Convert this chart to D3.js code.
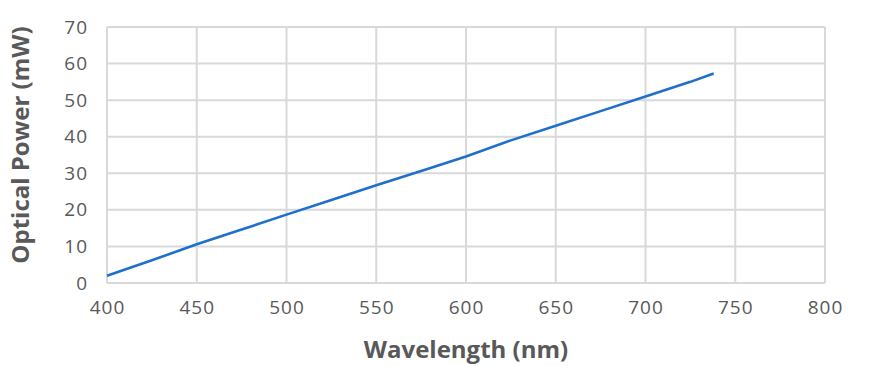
<!DOCTYPE html>
<html>
<head>
<meta charset="utf-8">
<script src="https://cdn.jsdelivr.net/npm/d3@7"></script>
<style>
  body { margin: 0; background: #fff; }
  svg text { font-family: "Open Sans", sans-serif; fill: #595959; }
</style>
</head>
<body>
<div id="chart"></div>
<script>
// data
const wavelength = [400, 425, 450, 475, 500, 525, 550, 575, 600, 625, 650, 675, 700, 725, 738];
const power = [2.0, 6.2, 10.6, 14.6, 18.7, 22.7, 26.7, 30.6, 34.6, 39.0, 43.0, 47.0, 51.0, 55.0, 57.3];
const xTicks = [400, 450, 500, 550, 600, 650, 700, 750, 800];
const yTicks = [0, 10, 20, 30, 40, 50, 60, 70];

const W = 882, H = 366;
const margin = {top: 27, right: 57, bottom: 83, left: 107};
const width = W - margin.left - margin.right;
const height = H - margin.top - margin.bottom;

const svg = d3.select("#chart").append("svg")
    .attr("width", W)
    .attr("height", H);
const g = svg.append("g")
    .attr("transform", "translate(" + margin.left + "," + margin.top + ")");

const x = d3.scaleLinear().domain([400, 800]).range([0, width]);
const y = d3.scaleLinear().domain([0, 70]).range([height, 0]);

// grid
g.selectAll("line.vgrid").data(xTicks).enter().append("line")
    .attr("class", "vgrid")
    .attr("x1", d => x(d)).attr("x2", d => x(d))
    .attr("y1", 0).attr("y2", height)
    .attr("stroke", "#d9d9d9").attr("stroke-width", 2);
g.selectAll("line.hgrid").data(yTicks).enter().append("line")
    .attr("class", "hgrid")
    .attr("x1", 0).attr("x2", width)
    .attr("y1", d => y(d)).attr("y2", d => y(d))
    .attr("stroke", "#d9d9d9").attr("stroke-width", 2);

// axes (labels only, grid drawn above)
const xAxis = g.append("g")
    .attr("transform", "translate(0," + height + ")")
    .call(d3.axisBottom(x).tickValues(xTicks).tickSize(0).tickPadding(18));
const yAxis = g.append("g")
    .call(d3.axisLeft(y).tickValues(yTicks).tickSize(0).tickPadding(19));
[xAxis, yAxis].forEach(a => {
    a.select(".domain").remove();
    a.selectAll("text")
        .style("font-family", "'Open Sans', sans-serif")
        .style("font-size", "19px")
        .style("letter-spacing", "1px")
        .attr("fill", "#595959");
});

// the line
g.append("path")
    .datum(wavelength.map((d, i) => [d, power[i]]))
    .attr("fill", "none")
    .attr("stroke", "#1f6fcc")
    .attr("stroke-width", 2.6)
    .attr("d", d3.line().x(d => x(d[0])).y(d => y(d[1])));

// axis titles
svg.append("text")
    .attr("x", margin.left + width / 2)
    .attr("y", 358)
    .attr("text-anchor", "middle")
    .style("font-size", "24px")
    .style("font-weight", "bold")
    .text("Wavelength (nm)");

svg.append("text")
    .attr("transform", "translate(29,145) rotate(-90)")
    .attr("text-anchor", "middle")
    .style("font-size", "24px")
    .style("font-weight", "bold")
    .text("Optical Power (mW)");
</script>
</body>
</html>
